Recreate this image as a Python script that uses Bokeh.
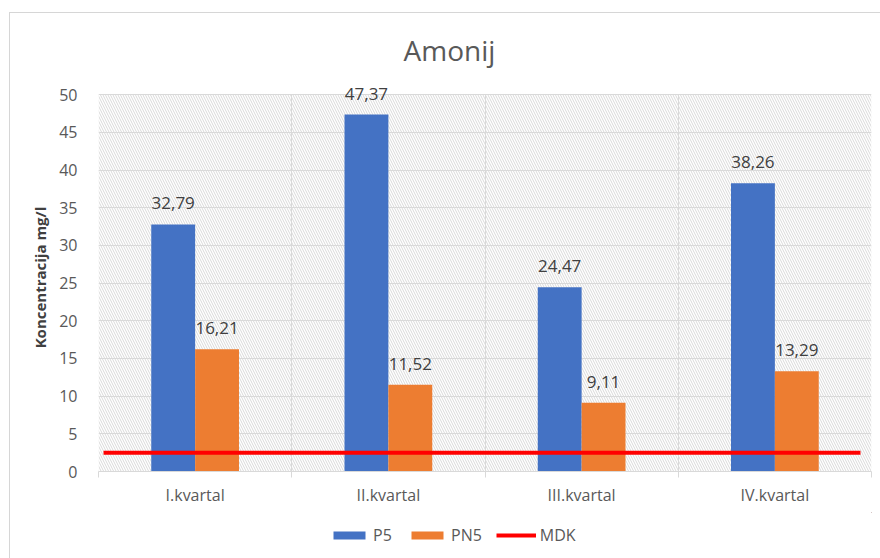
from bokeh.plotting import figure
from bokeh.layouts import column
from bokeh.core.properties import value
from bokeh.models import (Range1d, FixedTicker, ColumnDataSource, LabelSet, BoxAnnotation,
                          Legend, LegendItem, Title)
from bokeh.embed import file_html
from bokeh.resources import INLINE

# ---- data ----
quarters = ["I.kvartal", "II.kvartal", "III.kvartal", "IV.kvartal"]
p5 = [32.79, 47.37, 24.47, 38.26]
pn5 = [16.21, 11.52, 9.11, 13.29]
mdk = 2.5
y_ticks = [0, 5, 10, 15, 20, 25, 30, 35, 40, 45, 50]
title_text = "Amonij"
y_label = "Koncentracija mg/l"
series_names = ["P5", "PN5", "MDK"]

FONT = "Open Sans"
TXT = "#595959"
GRID = "#d9d9d9"
BLUE = "#4472C4"
ORANGE = "#ED7D31"
RED = "#ff0000"

n = len(quarters)
centers = [i + 0.5 for i in range(n)]
bar_w = 0.227
y_top = y_ticks[-1] * 1.03   # head-room so the top data label is not clipped


def fmt(v):
    return f"{v:.2f}".replace(".", ",")


src_p5 = ColumnDataSource(dict(x=[c - bar_w / 2 for c in centers], top=p5,
                               label=[fmt(v) for v in p5]))
src_pn5 = ColumnDataSource(dict(x=[c + bar_w / 2 for c in centers], top=pn5,
                                label=[fmt(v) for v in pn5]))
src_mdk = ColumnDataSource(dict(x=[0.026, n - 0.057], y=[mdk, mdk]))

p = figure(width=870, height=499, output_backend="svg", toolbar_location=None,
           x_range=Range1d(0, n), y_range=Range1d(y_ticks[0], y_top),
           min_border_left=88, min_border_right=9, min_border_top=67, min_border_bottom=41)
p.outline_line_color = None
p.background_fill_color = "white"
p.border_fill_color = "white"

# hatched plot-area background (only up to the top tick)
hatch = BoxAnnotation(top=y_ticks[-1], fill_alpha=0, line_color=None, hatch_pattern="\\",
                      hatch_scale=5, hatch_weight=1, hatch_color="#d9d9d9", level="image")
p.add_layout(hatch)

# title
t = Title(text=title_text, align="left", offset=305, text_font=FONT, text_font_size="28px",
          text_font_style="normal", text_color=TXT, standoff=30)
p.add_layout(t, "above")

# grid
p.ygrid.ticker = FixedTicker(ticks=y_ticks)
p.ygrid.grid_line_color = GRID
p.xgrid.ticker = FixedTicker(ticks=list(range(n + 1)))
p.xgrid.grid_line_color = GRID
p.xgrid.cross_bounds = (y_ticks[0], y_ticks[-1])

# axes
p.xaxis.ticker = FixedTicker(ticks=centers, minor_ticks=list(range(n + 1)))
p.xaxis.major_label_overrides = {c: q for c, q in zip(centers, quarters)}
p.xaxis.major_tick_out = 0
p.xaxis.major_tick_in = 0
p.xaxis.minor_tick_out = 6
p.xaxis.minor_tick_in = 0
p.xaxis.minor_tick_line_color = GRID
p.xaxis.axis_line_color = GRID
p.xaxis.major_label_text_font = FONT
p.xaxis.major_label_text_font_size = "16px"
p.xaxis.major_label_text_color = TXT
p.xaxis.major_label_standoff = 6

p.yaxis.ticker = FixedTicker(ticks=y_ticks)
p.yaxis.axis_line_color = None
p.yaxis.major_tick_line_color = None
p.yaxis.minor_tick_line_color = None
p.yaxis.major_label_text_font = FONT
p.yaxis.major_label_text_font_size = "16px"
p.yaxis.major_label_text_color = TXT
p.yaxis.major_label_standoff = 15
p.yaxis.axis_label = y_label
p.yaxis.axis_label_text_font = FONT
p.yaxis.axis_label_text_font_size = "15px"
p.yaxis.axis_label_text_font_style = "bold"
p.yaxis.axis_label_text_color = "#404040"
p.yaxis.axis_label_standoff = 6

# bars
p.vbar(x="x", top="top", width=bar_w, source=src_p5, fill_color=BLUE, line_color=None)
p.vbar(x="x", top="top", width=bar_w, source=src_pn5, fill_color=ORANGE, line_color=None)

# MDK line
p.line(x="x", y="y", source=src_mdk, line_color=RED, line_width=4)

# data labels
for src in (src_p5, src_pn5):
    p.add_layout(LabelSet(x="x", y="top", text="label", source=src, text_align="center",
                          text_baseline="alphabetic", y_offset=15, text_font=value(FONT),
                          text_font_size="17px", text_color="#404040"))

# legend strip (separate small canvas so the legend is not clipped by the plot frame);
# its renderers reuse the series sources but lie outside this strip's visible ranges
lg = figure(width=870, height=46, output_backend="svg", toolbar_location=None,
            x_axis_type=None, y_axis_type=None,
            x_range=Range1d(-20, -10), y_range=Range1d(-20, -10),
            min_border_left=0, min_border_right=0, min_border_top=0, min_border_bottom=0)
lg.outline_line_color = None
lg.grid.visible = False
e1 = lg.vbar(x="x", top="top", width=bar_w, source=src_p5, fill_color=BLUE, line_color=None)
e2 = lg.vbar(x="x", top="top", width=bar_w, source=src_pn5, fill_color=ORANGE, line_color=None)
e3 = lg.line(x="x", y="y", source=src_mdk, line_color=RED, line_width=4)

legend = Legend(items=[LegendItem(label=series_names[0], renderers=[e1]),
                       LegendItem(label=series_names[1], renderers=[e2]),
                       LegendItem(label=series_names[2], renderers=[e3])],
                location=(231, 12), orientation="horizontal", padding=0, margin=0,
                spacing=14, label_standoff=4, glyph_width=40, glyph_height=10,
                label_height=20, border_line_color=None, background_fill_alpha=0,
                label_text_font=FONT, label_text_font_size="16px", label_text_color=TXT)
lg.add_layout(legend)

layout = column(p, lg, spacing=0, margin=(12, 0, 0, 9),
                styles={"border-left": "1px solid #d6d6d6",
                        "border-top": "1px solid #d6d6d6"})
open("out.html", "w").write(file_html(layout, INLINE))
